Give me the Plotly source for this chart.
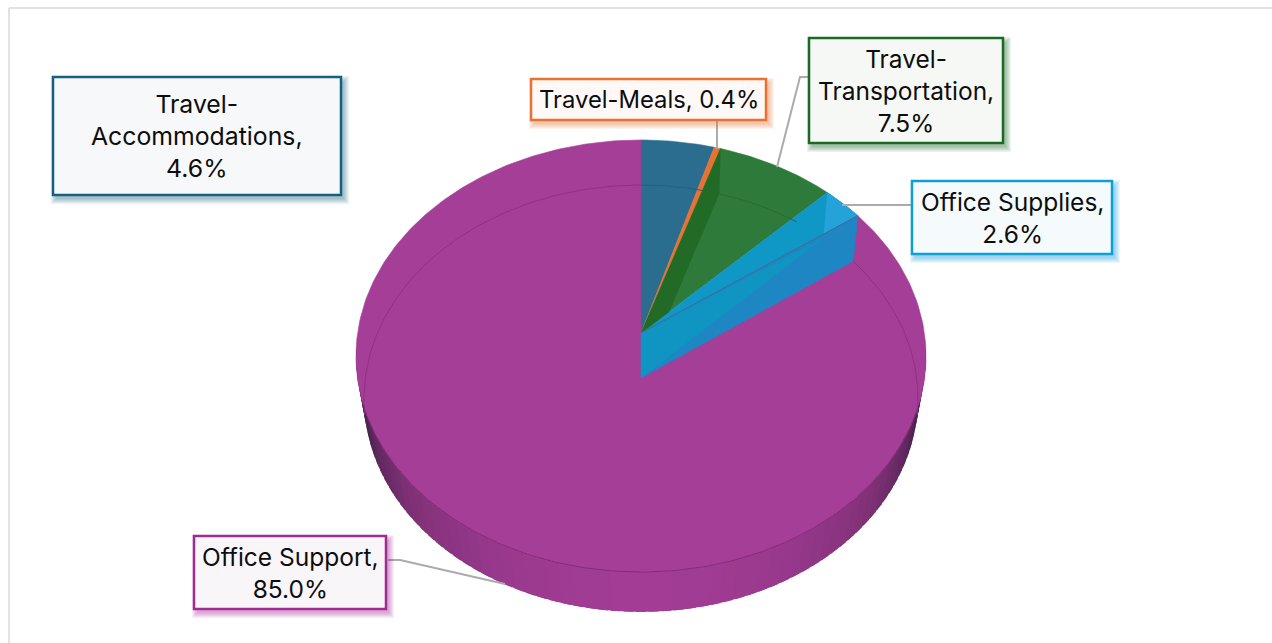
import numpy as np
import plotly.graph_objects as go

categories = ["Travel-Accommodations", "Travel-Meals", "Travel-Transportation", "Office Supplies", "Office Support"]
values = [4.6, 0.4, 7.5, 2.6, 85.0]
label_texts = ["Travel-<br>Accommodations,<br>4.6%", "Travel-Meals, 0.4%", "Travel-<br>Transportation,<br>7.5%",
               "Office Supplies,<br>2.6%", "Office Support,<br>85.0%"]

COLORS = ["#2B6D8F", "#E97132", "#2E7A3A", "#0F97C6", "#A53E97"]
BORDERS = ["#156082", "#E97132", "#196B24", "#0F9ED5", "#A02B93"]
TINTS = ["#F6F8FA", "#FEF9F6", "#F5F8F5", "#F5FAFC", "#F9F6F9"]
BOXES = [(53, 77, 341, 195), (531, 79, 766, 120), (809, 38, 1003, 143), (912, 181, 1112, 254), (194, 536, 386, 609)]
FONT_SIZES = [24.8, 23.8, 24.5, 24.5, 24.5]
LEADERS = [[(717, 120), (717, 149)], [(808, 77), (800, 77), (777, 167)], [(913, 205), (842, 205)],
           [(388, 560), (400, 560), (505, 584)]]

# perspective planes of the pie: top face and bottom face
TOP = dict(cx=641, b=333, a=-178.1, c=0.1065, k=283.4)
BOT = dict(cx=641, b=378, a=-175.2, c=0.096, k=275.7)

def proj(plane, frac):
    th = 2 * np.pi * np.asarray(frac, dtype=float)
    u, v = np.sin(th), np.cos(th)
    d = 1 + plane["c"] * v
    return plane["cx"] + plane["k"] * u / d, (plane["a"] * v + plane["b"]) / d

def arc(plane, f0, f1, n=None):
    n = n or max(2, int(abs(f1 - f0) * 400))
    return proj(plane, np.linspace(f0, f1, n))

def intersect(p1, p2, p3, p4):
    a = np.array([[p2[0]-p1[0], p3[0]-p4[0]], [p2[1]-p1[1], p3[1]-p4[1]]])
    t = np.linalg.solve(a, np.array([p3[0]-p1[0], p3[1]-p1[1]]))[0]
    return (p1[0] + t*(p2[0]-p1[0]), p1[1] + t*(p2[1]-p1[1]))

total = sum(values)
cum = np.concatenate([[0], np.cumsum(values)]) / total

fig = go.Figure()

def poly(xs, ys, color, lw=0.6, line=None):
    fig.add_trace(go.Scatter(x=list(xs), y=list(ys), mode="lines", fill="toself", fillcolor=color,
                             line=dict(color=line or color, width=lw), hoverinfo="skip", showlegend=False))

def stroke(xs, ys, color, w=1.0):
    fig.add_trace(go.Scatter(x=list(xs), y=list(ys), mode="lines", line=dict(color=color, width=w),
                             hoverinfo="skip", showlegend=False))

# rim with shading
stops_t = [0, .15, .34, .56, .76, .9, 1]
stops_rgb = np.array([[163, 61, 150], [160, 60, 147], [150, 56, 140], [130, 50, 120],
                      [92, 40, 92], [55, 28, 62], [42, 22, 50]])
N = 72
edges = np.linspace(0.262, 0.738, N + 1)
ov = 0.0025
# paint from the sides toward the front so each quad overlaps its darker neighbour
order = sorted(range(N), key=lambda i: -abs((edges[i] + edges[i+1]) / 2 - 0.5))
for i in order:
    fm = (edges[i] + edges[i+1]) / 2
    t = abs(fm - 0.5) / 0.238
    rgb = [int(np.interp(t, stops_t, stops_rgb[:, j])) for j in range(3)]
    col = f"rgb({rgb[0]},{rgb[1]},{rgb[2]})"
    x0, y0 = arc(TOP, edges[i] - ov, edges[i+1] + ov, 3)
    x1, y1 = arc(BOT, edges[i+1] + ov, edges[i] - ov, 3)
    poly(np.r_[x0, x1], np.r_[y0, y1], col, lw=0)

# top faces
for i in range(len(values)):
    x, y = arc(TOP, cum[i], cum[i+1])
    poly(np.r_[TOP["cx"], x, TOP["cx"]], np.r_[TOP["b"], y, TOP["b"]], COLORS[i])

apex_t = (float(TOP["cx"]), float(TOP["b"]))
apex_b = (float(BOT["cx"]), float(BOT["b"]))
T = lambda f: tuple(float(v) for v in proj(TOP, f))
B = lambda f: tuple(float(v) for v in proj(BOT, f))

# faint far arc of the pie seen through the faces
x, y = arc(BOT, cum[0], cum[1])
stroke(x, y, "#24607F", 1)
x, y = arc(BOT, cum[2], cum[2] + (cum[3] - cum[2]) * 0.72)
stroke(x, y, "#276B32", 1)

# inner wall of the transportation wedge
w = intersect(B(cum[2]), apex_b, apex_t, T(cum[3]))
poly([T(cum[2])[0], B(cum[2])[0], w[0], apex_t[0]], [T(cum[2])[1], B(cum[2])[1], w[1], apex_t[1]], "#226B27")

# office supplies: bright outer area and the exposed front wall
s2 = intersect(B(cum[3]), (B(cum[3])[0], 0), apex_t, T(cum[4]))
xa, ya = arc(TOP, cum[3], cum[4], 8)
poly(np.r_[xa, s2[0], B(cum[3])[0]], np.r_[ya, s2[1], B(cum[3])[1]], "#25A2D8")
q = [apex_t, T(cum[4]), B(cum[4]), apex_b]
poly([p[0] for p in q], [p[1] for p in q], "#1E86C3")
poly([apex_t[0], apex_b[0], B(cum[3])[0]], [apex_t[1], apex_b[1], B(cum[3])[1]], "#1095C3")
stroke([apex_t[0], T(cum[4])[0]], [apex_t[1], T(cum[4])[1]], "#3B6F9F", 1)
stroke([T(cum[4])[0], B(cum[4])[0]], [T(cum[4])[1], B(cum[4])[1]], "#2B7DB8", 1)

# faint rim lines on the office-support face
x, y = arc(BOT, cum[4], 0.2775)
stroke(x, y, "#912F86", 1)
x, y = arc(TOP, 0.305, 0.695)
stroke(x, y, "#852A7A", 1)
x, y = arc(BOT, 0.7225, 1.0)
stroke(x, y, "#912F86", 1)

# leaders
for pts in LEADERS:
    stroke([p[0] for p in pts], [p[1] for p in pts], "#ABABAB", 2)

# frame
shapes = [
    dict(type="line", x0=9, x1=9, y0=8, y1=643, line=dict(color="#E2E2E2", width=2)),
    dict(type="line", x0=9, x1=1272, y0=8, y1=8, line=dict(color="#E2E2E2", width=2)),
]
annotations = []
for (x0, y0, x1, y1), b, tint, txt, fs in zip(BOXES, BORDERS, TINTS, label_texts, FONT_SIZES):
    for e in [5, 4, 3, 2, 1, 0]:
        shapes.append(dict(type="rect", x0=x0 + 3 - e, x1=x1 + 3 + e, y0=y0 + 4 - e, y1=y1 + 4 + e,
                           fillcolor=b, opacity=0.08, line=dict(width=0), layer="above"))
    shapes.append(dict(type="rect", x0=x0, x1=x1, y0=y0, y1=y1, fillcolor=tint,
                       line=dict(color=b, width=2.5), layer="above"))
    annotations.append(dict(x=(x0 + x1) / 2, y=(y0 + y1) / 2, xref="x", yref="y", text=txt, showarrow=False,
                            align="center", xanchor="center", yanchor="middle",
                            font=dict(family="Inter, 'Open Sans', sans-serif", size=fs, color="#0D0D0D")))

fig.update_layout(
    width=1272, height=643, margin=dict(l=0, r=0, t=0, b=0),
    paper_bgcolor="white", plot_bgcolor="white", showlegend=False,
    xaxis=dict(range=[0, 1272], visible=False, fixedrange=True),
    yaxis=dict(range=[643, 0], visible=False, fixedrange=True),
    shapes=shapes, annotations=annotations,
)
fig.write_html("out.html", config=dict(displayModeBar=False),
               post_script="document.body.style.margin='0';document.body.style.overflow='hidden';")
